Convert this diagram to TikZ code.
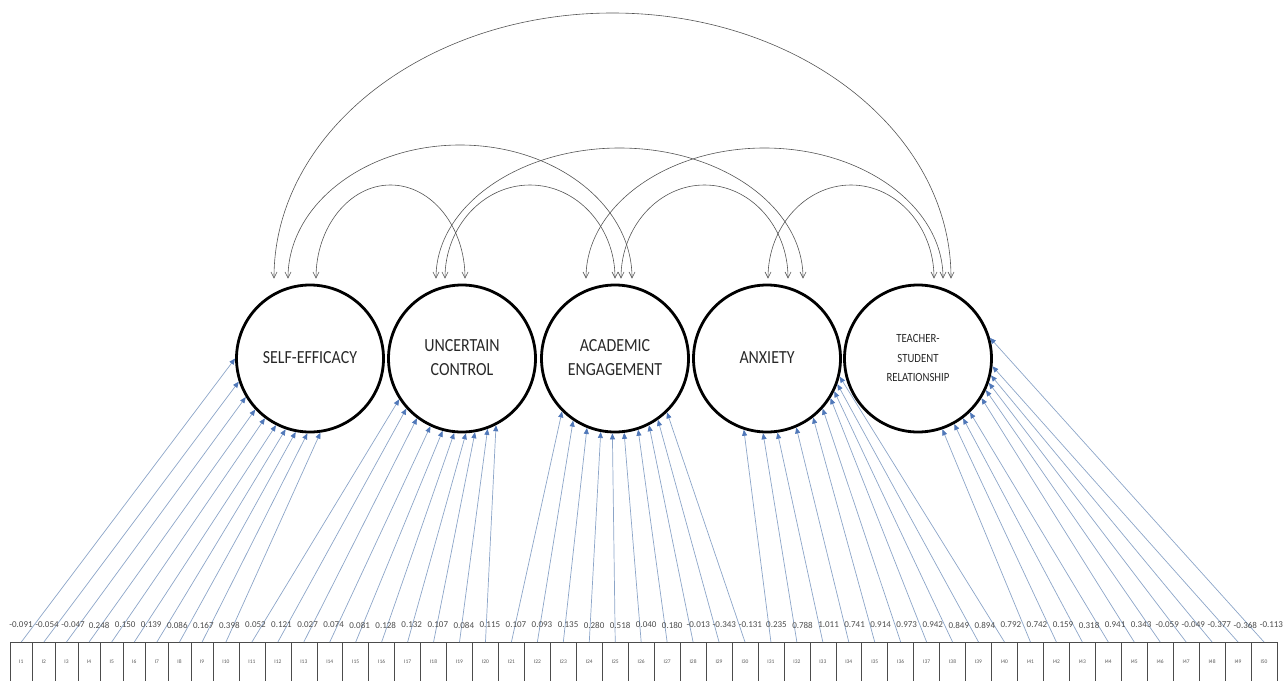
\documentclass[tikz,border=0pt]{standalone}
\usepackage{fontspec}
\usepackage{graphicx}
\setmainfont{Carlito}
\usetikzlibrary{arrows.meta,calc}
\definecolor{indline}{RGB}{140,165,200}
\definecolor{indtip}{RGB}{80,120,185}
\definecolor{covline}{RGB}{85,85,85}
\definecolor{txt}{RGB}{40,40,40}
\newcommand{\ftext}[1]{\scalebox{0.86}[1]{\begin{tabular}{@{}c@{}}#1\end{tabular}}}
\newcommand{\covarc}[3]{%
  \draw[cov] let \p1=(#1), \p2=(#2), \n1={(\x2-\x1)/2}, \n2={-(#3)*1pt-\y1} in
  (\p1) .. controls +(0pt,0.552*\n2) and +(-0.552*\n1,0pt) .. ({\x1+\n1},{-(#3)*1pt})
  .. controls +(0.552*\n1,0pt) and +(0pt,0.552*\n2) .. (\p2);}
\begin{document}
\begin{tikzpicture}[x=1pt,y=-1pt,
  factor/.style={circle,draw=black,line width=2.8pt,minimum size=147pt,inner sep=0pt,text=txt,font=\fontsize{18.5}{24}\selectfont},
  item/.style={draw=black!70,line width=0.6pt,rectangle,inner ysep=0pt,inner xsep=0pt,text height=21pt,text depth=30pt,anchor=north,font=\fontsize{5.5}{5.5}\selectfont,text=black!65},
  val/.style={font=\fontsize{9}{9}\selectfont,text=black!70,inner sep=0pt},
  ind/.style={draw=indline,line width=0.7pt,-{Triangle[length=6pt,width=5pt,color=indtip]}},
  cov/.style={draw=covline,line width=0.6pt,{Straight Barb[length=6pt,width=6pt]}-{Straight Barb[length=6pt,width=6pt]}}
]
\useasboundingbox (0,0) rectangle (1285,680);
\clip (0,0) rectangle (1285,680);

% indicator boxes
\foreach \i in {1,...,9}
  \node[item,minimum width=22.6pt] (b\i) at ({10+22.6*(\i-0.5)},642) {I\i};
\foreach \i in {10,...,50}
  \node[item,minimum width=25.95pt] (b\i) at ({213+25.95*(\i-9.5)},642) {I\i};

% factors
\node[factor] (se)  at (310,358.5) {\ftext{SELF-EFFICACY}};
\node[factor] (uc)  at (462,358.5) {\ftext{UNCERTAIN\\CONTROL}};
\node[factor] (ae)  at (615,358.5) {\ftext{ACADEMIC\\ENGAGEMENT}};
\node[factor] (anx) at (767,358.5) {\ftext{ANXIETY}};
\node[factor,font=\fontsize{12.5}{19.5}\selectfont] (tsr) at (918,358.5) {\ftext{TEACHER-\\STUDENT\\RELATIONSHIP}};

% loadings
\foreach \i/\a in {1/180,2/198,3/211,4/223,5/233,6/243,7/251,8/259,9/268,10/278}
  \draw[ind] (b\i.north) -- (se.\a);
\foreach \i/\a in {11/213,12/222,13/233,14/245,15/255,16/264,17/273,18/280,19/290,20/297}
  \draw[ind] (b\i.north) -- (uc.\a);
\foreach \i/\a in {21/225,22/236,23/248,24/259,25/268,26/277,27/288,28/297,29/305,30/314}
  \draw[ind] (b\i.north) -- (ae.\a);
\foreach \i/\a in {31/252,32/267,33/278,34/293,35/308,36/318,37/328,38/334,39/340,40/346}
  \draw[ind] (b\i.north) -- (anx.\a);
\foreach \i/\a in {41/289,42/299,43/307,44/314,45/328,46/335,47/341,48/347,49/354,50/16}
  \draw[ind] (b\i.north) -- (tsr.\a);

% values
\foreach \v [count=\i] in {-0.091,-0.054,-0.047,0.248,0.150,0.139,0.086,0.167,0.398,0.052,0.121,0.027,0.074,0.081,0.128,0.132,0.107,0.084,0.115,0.107,0.093,0.135,0.280,0.518,0.040,0.180,-0.013,-0.343,-0.131,0.235,0.788,1.011,0.741,0.914,0.973,0.942,0.849,0.894,0.792,0.742,0.159,0.318,0.941,0.343,-0.059,-0.049,-0.377,-0.368,-0.113}
  \node[val] (v\i) at ({21+26.05*(\i-1)},625) {\v};

% covariance end points
\coordinate (se1) at ([xshift=-36pt,yshift=5pt]se.north);
\coordinate (se2) at ([xshift=-22pt,yshift=5pt]se.north);
\coordinate (se3) at ([xshift=6pt,yshift=5pt]se.north);
\coordinate (uc1) at ([xshift=-26pt,yshift=5pt]uc.north);
\coordinate (uc2) at ([xshift=-17pt,yshift=5pt]uc.north);
\coordinate (uc3) at ([xshift=3pt,yshift=5pt]uc.north);
\coordinate (ae1) at ([xshift=-29pt,yshift=5pt]ae.north);
\coordinate (ae2) at ([xshift=0pt,yshift=5pt]ae.north);
\coordinate (ae3) at ([xshift=6pt,yshift=5pt]ae.north);
\coordinate (ae4) at ([xshift=17pt,yshift=5pt]ae.north);
\coordinate (anx1) at ([xshift=1pt,yshift=5pt]anx.north);
\coordinate (anx2) at ([xshift=21pt,yshift=5pt]anx.north);
\coordinate (anx3) at ([xshift=36pt,yshift=5pt]anx.north);
\coordinate (tsr1) at ([xshift=16pt,yshift=5pt]tsr.north);
\coordinate (tsr2) at ([xshift=25pt,yshift=5pt]tsr.north);
\coordinate (tsr3) at ([xshift=33pt,yshift=5pt]tsr.north);

\covarc{se1}{tsr3}{13}
\covarc{se2}{ae4}{145}
\covarc{se3}{uc3}{185}
\covarc{uc1}{anx3}{148}
\covarc{uc2}{ae2}{185}
\covarc{ae1}{tsr2}{148}
\covarc{ae3}{anx2}{185}
\covarc{anx1}{tsr1}{185}
\end{tikzpicture}
\end{document}
